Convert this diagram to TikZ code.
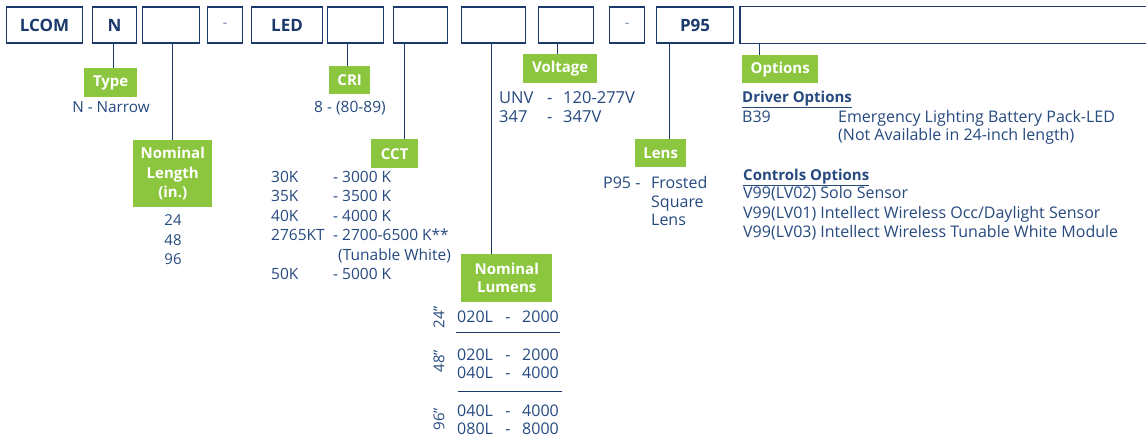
\documentclass[tikz,border=0pt]{standalone}
\usepackage{fontspec}
\setmainfont{Open Sans}
\definecolor{navy}{HTML}{1B3A6B}
\definecolor{tblue}{HTML}{26497F}
\definecolor{lgreen}{HTML}{8CC63F}
\begin{document}
\begin{tikzpicture}[x=1pt,y=-1pt,
  codebox/.style={draw=navy,line width=1.2pt,minimum height=36pt,inner sep=0pt,anchor=west,
    font=\fontsize{17}{20}\selectfont\bfseries,text=navy},
  dashbox/.style={codebox,font=\fontsize{14}{16}\selectfont,text=tblue!70},
  tag/.style={fill=lgreen,text=white,inner sep=0pt,anchor=north west,align=center,
    font=\fontsize{15}{19.5}\selectfont\bfseries},
  body/.style={text=tblue,inner sep=0pt,anchor=base west,font=\fontsize{15}{19}\selectfont},
  bodyc/.style={body,font=\fontsize{15.5}{19}\selectfont},
  bodyl/.style={body,font=\fontsize{16}{19}\selectfont},
  bodyv/.style={body,font=\fontsize{16.5}{19}\selectfont},
  head/.style={body,font=\fontsize{15}{19}\selectfont\bfseries},
  link/.style={draw=navy,line width=1pt},
  sep/.style={draw=navy,line width=1pt}]
\useasboundingbox (0,0) rectangle (1146,437);

% code boxes
\node[codebox,minimum width=76pt] (b1) at (6,25) {LCOM};
\node[codebox,minimum width=44pt] (b2) at (92,25) {N};
\node[codebox,minimum width=57pt] (b3) at (142,25) {};
\node[dashbox,minimum width=35pt] (b4) at (207,25) {-};
\node[codebox,minimum width=71pt] (b5) at (251,25) {LED};
\node[codebox,minimum width=56pt] (b6) at (327,25) {};
\node[codebox,minimum width=54pt] (b7) at (393,25) {};
\node[codebox,minimum width=64pt] (b8) at (461,25) {};
\node[codebox,minimum width=55pt] (b9) at (538,25) {};
\node[dashbox,minimum width=35pt] (b10) at (609,25) {-};
\node[codebox,minimum width=77pt] (b11) at (656,25) {P95};
\node[codebox,draw=none,minimum width=406pt] (b12) at (740,25) {};
\draw[navy,line width=1.2pt] (b12.north east) -- (b12.north west) -- (b12.south west) -- (b12.south east);

% tags
\node[tag,minimum width=53pt,minimum height=29pt] (type) at (84,68) {Type};
\node[tag,minimum width=79pt,minimum height=67pt] (nlen) at (133,140) {Nominal\\Length\\(in.)};
\node[tag,minimum width=41pt,minimum height=28pt] (cri) at (329,66) {CRI};
\node[tag,minimum width=47pt,minimum height=29pt] (cct) at (371,139) {CCT};
\node[tag,minimum width=91pt,minimum height=48pt,font=\fontsize{15}{18}\selectfont\bfseries] (lum) at (461,254) {Nominal\\Lumens};
\node[tag,minimum width=74pt,minimum height=29pt] (volt) at (523,54) {Voltage};
\node[tag,minimum width=51pt,minimum height=28pt] (lens) at (635,139) {Lens};
\node[tag,minimum width=76pt,minimum height=28pt] (opt) at (742,55) {Options};

% connectors
\coordinate (c2) at ([xshift=-1pt]b2.south);
\coordinate (c3) at ([xshift=1.5pt]b3.south);
\coordinate (c6) at ([xshift=-8pt]b6.south);
\coordinate (c7) at ([xshift=-16pt]b7.south);
\coordinate (c8) at ([xshift=-2pt]b8.south);
\coordinate (c9) at ([xshift=-8.5pt]b9.south);
\coordinate (c11) at ([xshift=-25.5pt]b11.south);
\coordinate (c12) at ([xshift=19pt]b12.south west);
\draw[link] (c2) -- (c2 |- type.north);
\draw[link] (c3) -- (c3 |- nlen.north);
\draw[link] (c6) -- (c6 |- cri.north);
\draw[link] (c7) -- (c7 |- cct.north);
\draw[link] (c8) -- (c8 |- lum.north);
\draw[link] (c9) -- (c9 |- volt.north);
\draw[link] (c11) -- (c11 |- lens.north);
\draw[link] (c12) -- (c12 |- opt.north);

% type
\node[body,anchor=base,font=\fontsize{15.3}{19}\selectfont] (tN) at (111,112.5) {N - Narrow};
% nominal length
\node[body,anchor=base] (l24) at (173,225.5) {24};
\node[body,anchor=base] (l48) at (173,245.5) {48};
\node[body,anchor=base] (l96) at (173,264.5) {96};
% CRI
\node[body,anchor=base,font=\fontsize{15.5}{19}\selectfont] (cri8) at (350,112.5) {8 - (80-89)};
% CCT
\node[bodyc] (k1a) at (271,182.5) {30K};
\node[bodyc] (k1b) at (333,182.5) {- 3000 K};
\node[bodyc] (k2a) at (271,201.9) {35K};
\node[bodyc] (k2b) at (333,201.9) {- 3500 K};
\node[bodyc] (k3a) at (271,221.3) {40K};
\node[bodyc] (k3b) at (333,221.3) {- 4000 K};
\node[bodyc] (k4a) at (271,240.7) {2765KT};
\node[bodyc] (k4b) at (333,240.7) {- 2700-6500 K**};
\node[bodyc] (k4c) at (338,260.1) {(Tunable White)};
\node[bodyc] (k5a) at (271,279.5) {50K};
\node[bodyc] (k5b) at (333,279.5) {- 5000 K};
% lumens
\node[body,anchor=center,rotate=90] (r24) at (439,317) {24”};
\node[body,anchor=center,rotate=90] (r48) at (439,361) {48”};
\node[body,anchor=center,rotate=90] (r96) at (439,419) {96”};
\node[bodyl] (m1a) at (457,322) {020L};
\node[bodyl,anchor=base] (m1b) at (508,322) {-};
\node[bodyl] (m1c) at (522,322) {2000};
\node[bodyl] (m2a) at (457,360) {020L};
\node[bodyl,anchor=base] (m2b) at (508,360) {-};
\node[bodyl] (m2c) at (522,360) {2000};
\node[bodyl] (m3a) at (457,378) {040L};
\node[bodyl,anchor=base] (m3b) at (508,378) {-};
\node[bodyl] (m3c) at (522,378) {4000};
\node[bodyl] (m4a) at (457,416.5) {040L};
\node[bodyl,anchor=base] (m4b) at (508,416.5) {-};
\node[bodyl] (m4c) at (522,416.5) {4000};
\node[bodyl] (m5a) at (457,434) {080L};
\node[bodyl,anchor=base] (m5b) at (508,434) {-};
\node[bodyl] (m5c) at (522,434) {8000};
\coordinate (s1a) at (456,332);
\coordinate (s1b) at (560,332);
\coordinate (s2a) at (458,391);
\coordinate (s2b) at (562,391);
\draw[sep] (s1a) -- (s1b);
\draw[sep] (s2a) -- (s2b);
% voltage
\node[bodyv] (v1a) at (499,103) {UNV};
\node[bodyv] (v1b) at (547,103) {-};
\node[bodyv] (v1c) at (563,103) {120-277V};
\node[bodyv] (v2a) at (499,122) {347};
\node[bodyv] (v2b) at (547,122) {-};
\node[bodyv] (v2c) at (563,122) {347V};
% lens
\node[bodyl] (p1) at (603,188.5) {P95 -};
\node[bodyl] (p2) at (651,188.5) {Frosted};
\node[bodyl] (p3) at (651,207.5) {Square};
\node[bodyl] (p4) at (651,225.5) {Lens};
% options
\node[head] (drv) at (742,102.5) {\underline{Driver Options}};
\node[bodyl] (o1a) at (742,122.5) {B39};
\node[bodyl] (o1b) at (838,122.5) {Emergency Lighting Battery Pack-LED};
\node[bodyl] (o1c) at (838,140.5) {(Not Available in 24-inch length)};
\node[head] (ctl) at (743,180.5) {\underline{Controls Options}};
\node[bodyl] (o2) at (743,198.5) {V99(LV02) Solo Sensor};
\node[bodyl] (o3) at (743,218.5) {V99(LV01) Intellect Wireless Occ/Daylight Sensor};
\node[bodyl] (o4) at (743,237.5) {V99(LV03) Intellect Wireless Tunable White Module};
\end{tikzpicture}
\end{document}
